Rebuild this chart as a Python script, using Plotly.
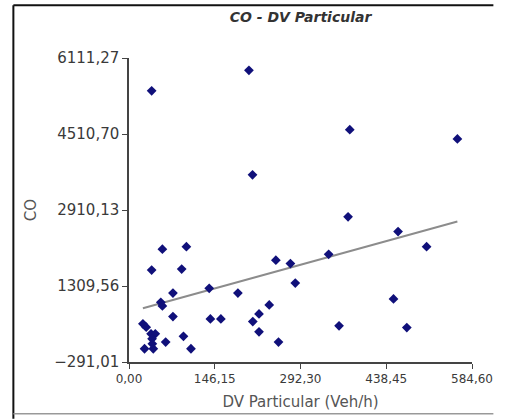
import numpy as np
import plotly.graph_objects as go

# Data
dv_particular = [38.6, 204.4, 376.3, 559.7, 210.5, 373.4, 458.6, 507.2, 56.9, 97.8,
                 38.6, 89.8, 250.3, 275.1, 340.3, 283.4, 136.7, 74.9, 185.6, 54.2,
                 56.9, 239.0, 450.8, 74.9, 138.7, 156.6, 221.6, 211.0, 358.0, 473.5,
                 221.6, 92.8, 62.5, 254.8, 105.6, 23.7, 29.3, 37.6, 44.8, 39.3,
                 39.8, 26.5, 41.4]
co_values = [5419, 5853, 4601, 4406, 3651, 2766, 2456, 2137, 2085, 2137,
             1645, 1666, 1854, 1781, 1976, 1372, 1261, 1162, 1162, 967,
             890, 911, 1036, 665, 617, 617, 722, 560, 470, 434,
             344, 250, 128, 128, -12, 512, 443, 302, 302, 197,
             93, -12, -12]
x_ticks = [0.00, 146.15, 292.30, 438.45, 584.60]
y_ticks = [-291.01, 1309.56, 2910.13, 4510.70, 6111.27]
title_text = "CO - DV Particular"
x_title = "DV Particular (Veh/h)"
y_title = "CO"

x = np.array(dv_particular)
y = np.array(co_values)
slope, intercept = np.polyfit(x, y, 1)
xl = np.array([x.min(), x.max()])
yl = slope * xl + intercept

fig = go.Figure()
fig.add_trace(go.Scatter(x=xl, y=yl, mode="lines",
                         line=dict(color="#8c8c8c", width=2), hoverinfo="skip"))
fig.add_trace(go.Scatter(x=x, y=y, mode="markers",
                         marker=dict(symbol="diamond", size=7.5, color="#10107a")))

font_family = "DejaVu Sans, Verdana, sans-serif"
fig.update_layout(
    width=505, height=420,
    margin=dict(l=129, r=23, t=58, b=57),
    paper_bgcolor="white", plot_bgcolor="white",
    showlegend=False, hovermode=False,
    separators=",.",
    font=dict(family=font_family, size=14, color="#3a3a3a"),
    title=dict(text="<b><i>" + title_text + "</i></b>", x=0.5, xref="paper",
               y=1 - 17 / 420, yanchor="middle", font=dict(size=14, color="#333333")),
)
fig.update_xaxes(range=[x_ticks[0], x_ticks[-1]], tickvals=x_ticks, tickformat=".2f",
                 showline=True, linecolor="#444444", linewidth=1.5, showgrid=False,
                 zeroline=False, ticks="outside", ticklen=5, tickcolor="#444444",
                 tickfont=dict(size=12, color="#3a3a3a"),
                 title=dict(text=x_title, standoff=11, font=dict(size=15, color="#555555")))
fig.update_yaxes(range=[y_ticks[0], y_ticks[-1]], tickvals=y_ticks, tickformat=".2f",
                 showline=True, linecolor="#444444", linewidth=1.5, showgrid=False,
                 zeroline=False, ticks="outside", ticklen=5, tickcolor="#444444",
                 tickfont=dict(size=15, color="#3a3a3a"),
                 title=dict(text=y_title, standoff=14, font=dict(size=15, color="#555555")))

# Outer frame (decoration)
W, H = 353, 305
def px(v): return (v - 129) / W
def py(v): return (363 - v) / H
fig.add_shape(type="line", xref="paper", yref="paper", x0=px(10), x1=px(10), y0=py(5), y1=py(420),
              line=dict(color="#111111", width=2))
fig.add_shape(type="line", xref="paper", yref="paper", x0=px(10), x1=px(504), y0=py(5), y1=py(5),
              line=dict(color="#111111", width=2))
fig.add_shape(type="line", xref="paper", yref="paper", x0=px(10), x1=px(504), y0=py(415), y1=py(415),
              line=dict(color="#999999", width=1.5))

fig.write_html("out.html", config={"displayModeBar": False},
               post_script="document.body.style.margin='0';")
